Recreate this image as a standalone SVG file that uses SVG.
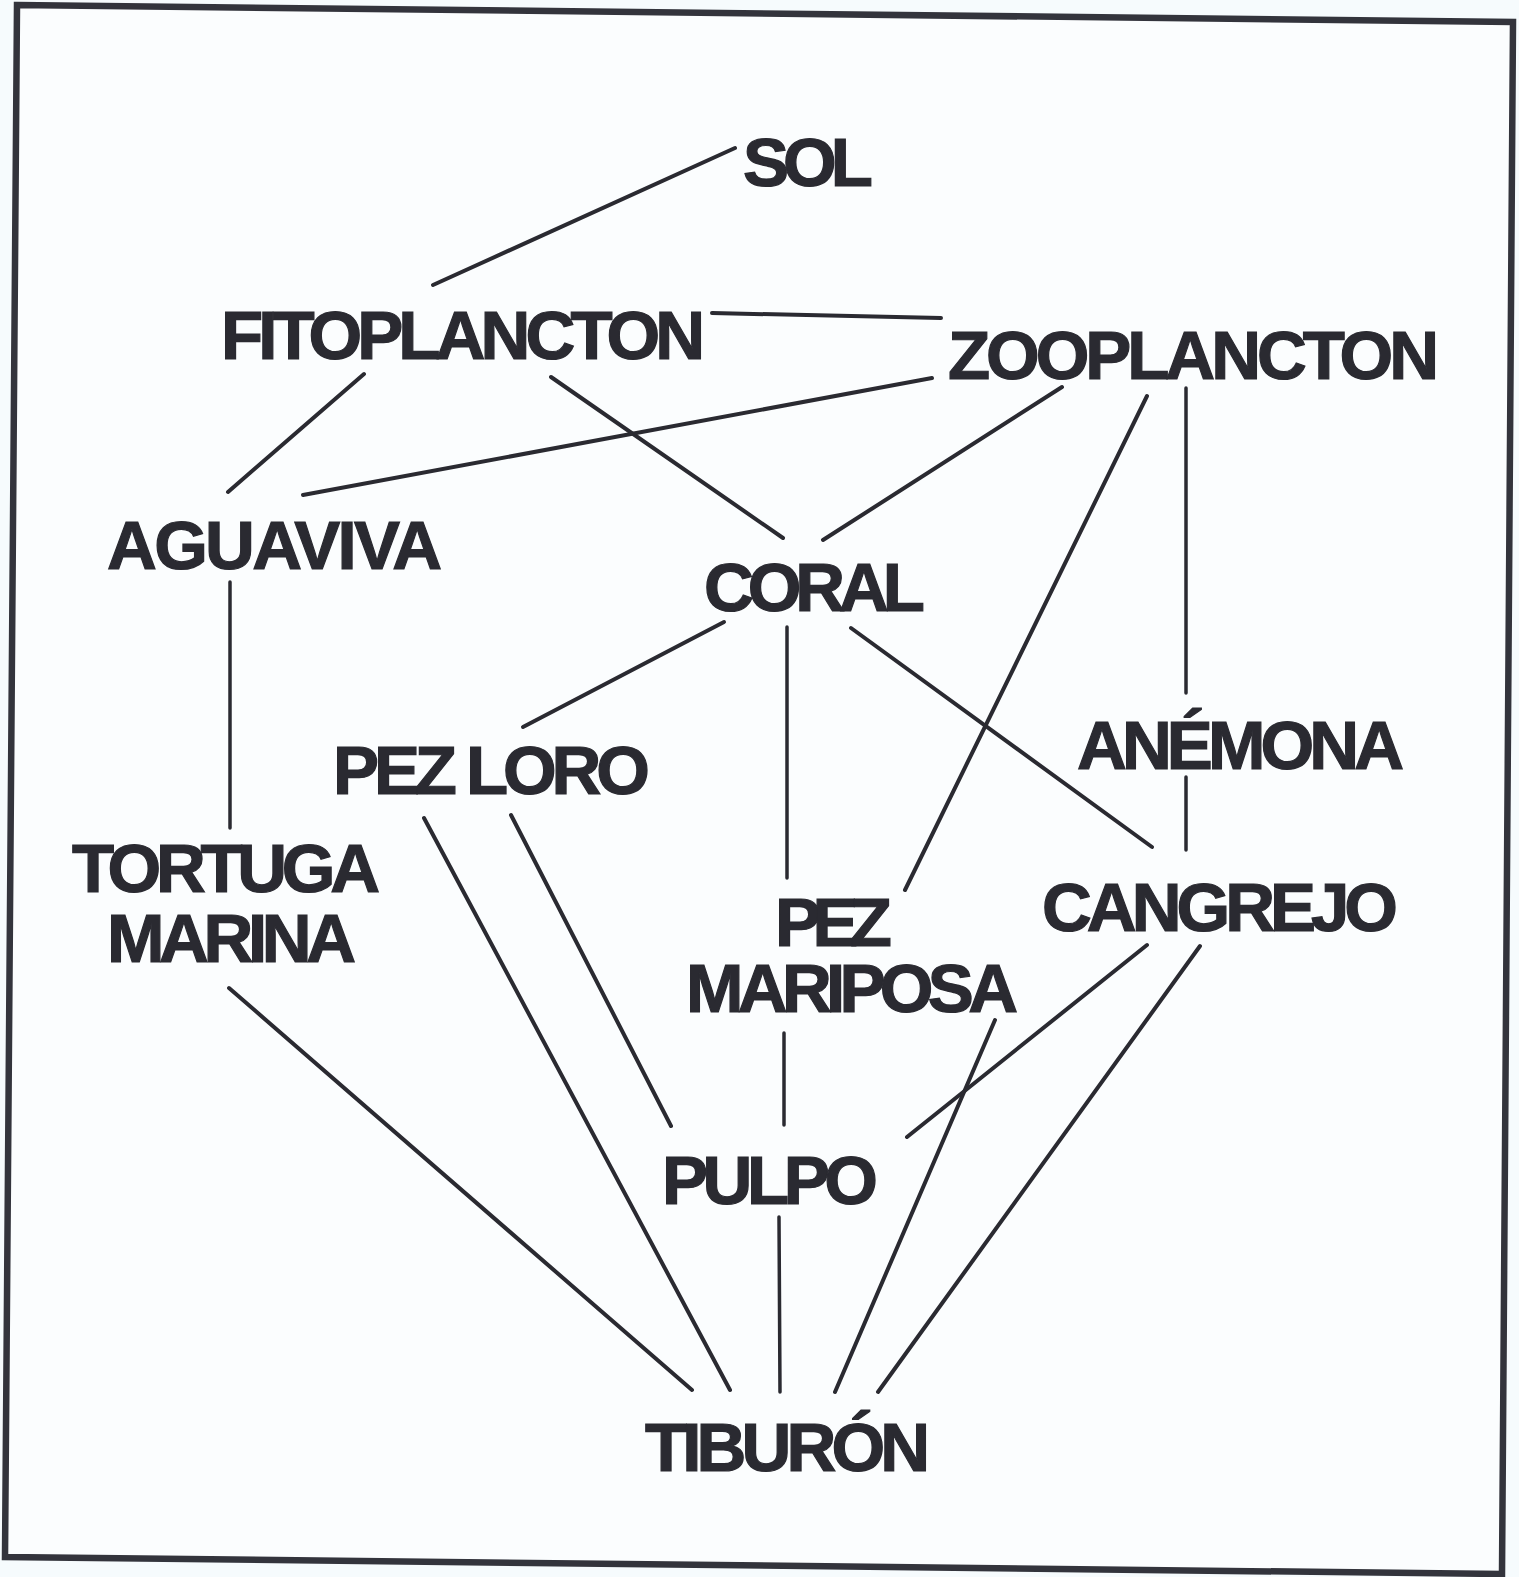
<svg xmlns="http://www.w3.org/2000/svg" width="1519" height="1577" viewBox="0 0 1519 1577">
<style>
.lbl{font-family:"Liberation Sans",Arial,sans-serif;font-weight:bold;font-size:69px;fill:#2a2a31;stroke:#2a2a31;stroke-width:1.2}
.edge{stroke:#2a2a31;stroke-width:4;stroke-linecap:round;fill:none}
.thin{stroke-width:3.5}
</style>
<rect x="0" y="0" width="1519" height="1577" fill="#f6fbfd"/>
<polygon points="17,5 1513,22 1502,1574 5,1557" fill="#fbfdfe" stroke="#33343c" stroke-width="6.5"/>
<g id="connectors">
<path class="edge" d="M735,148 L433,285"/>
<path class="edge" d="M712,313 L941,318"/>
<path class="edge" d="M364,374 L228,492"/>
<path class="edge" d="M551,377 L783,538"/>
<path class="edge" d="M932,378 L303,495"/>
<path class="edge" d="M1062,387 L823,540"/>
<path class="edge" d="M1147,396 L905,890"/>
<path class="edge thin" d="M1186,388 L1186,693"/>
<path class="edge thin" d="M1186,777 L1186,850"/>
<path class="edge thin" d="M230,582 L230,828"/>
<path class="edge" d="M724,622 L523,727"/>
<path class="edge thin" d="M787,627 L787,878"/>
<path class="edge" d="M851,628 L1152,847"/>
<path class="edge" d="M424,818 L730,1390"/>
<path class="edge" d="M511,815 L671,1126"/>
<path class="edge" d="M229,988 L692,1390"/>
<path class="edge thin" d="M784,1033 L784,1125"/>
<path class="edge" d="M995,1020 L835,1392"/>
<path class="edge" d="M1147,945 L907,1137"/>
<path class="edge" d="M1200,946 L878,1392"/>
<path class="edge thin" d="M779,1217 L780,1392"/>
</g>
<g id="sol"><text class="lbl" x="743" y="186" textLength="130">SOL</text></g>
<g id="fitoplancton"><text class="lbl" x="221" y="359" textLength="484">FITOPLANCTON</text></g>
<g id="zooplancton"><text class="lbl" x="948" y="379" textLength="491">ZOOPLANCTON</text></g>
<g id="aguaviva"><text class="lbl" x="107" y="569" textLength="335">AGUAVIVA</text></g>
<g id="coral"><text class="lbl" x="704" y="611" textLength="221">CORAL</text></g>
<g id="anemona"><text class="lbl" x="1077" y="769" textLength="327">ANÉMONA</text></g>
<g id="pez-loro"><text class="lbl" x="333" y="794" textLength="317">PEZ LORO</text></g>
<g id="tortuga-marina"><text class="lbl" x="72" y="892" textLength="308">TORTUGA</text><text class="lbl" x="107" y="962" textLength="249">MARINA</text></g>
<g id="pez-mariposa"><text class="lbl" x="775" y="946" textLength="117">PEZ</text><text class="lbl" x="686" y="1012" textLength="332">MARIPOSA</text></g>
<g id="cangrejo"><text class="lbl" x="1042" y="931" textLength="356">CANGREJO</text></g>
<g id="pulpo"><text class="lbl" x="662" y="1204" textLength="216">PULPO</text></g>
<g id="tiburon"><text class="lbl" x="645" y="1471" textLength="285">TIBURÓN</text></g>
</svg>
